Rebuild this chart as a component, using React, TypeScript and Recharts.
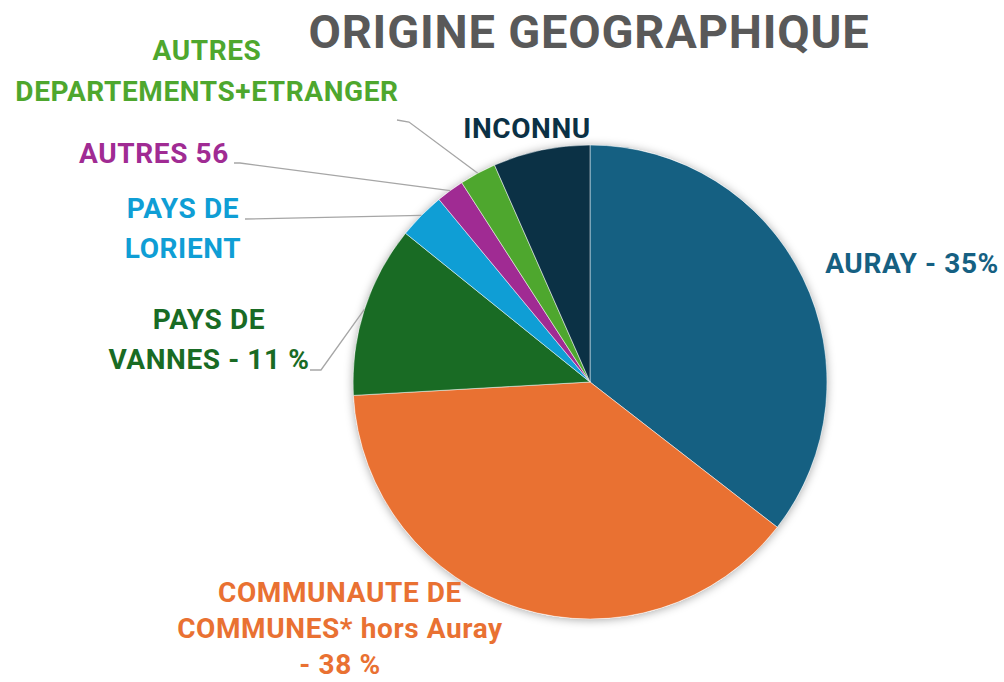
import { PieChart, Pie, Cell } from 'recharts';

// slices, clockwise from 12 o'clock
const SLICE_NAMES = [
    'AURAY',
    'COMMUNAUTE DE COMMUNES* hors Auray',
    'PAYS DE VANNES',
    'PAYS DE LORIENT',
    'AUTRES 56',
    'AUTRES DEPARTEMENTS+ETRANGER',
    'INCONNU',
];
const SLICE_VALUES = [35.5, 38.6, 11.7, 3.2, 1.9, 2.5, 6.6];
const LABEL_LINES = [
    ['AURAY - 35%'],
    ['COMMUNAUTE DE', 'COMMUNES* hors Auray', '- 38 %'],
    ['PAYS DE', 'VANNES - 11 %'],
    ['PAYS DE', 'LORIENT'],
    ['AUTRES 56'],
    ['AUTRES', 'DEPARTEMENTS+ETRANGER'],
    ['INCONNU'],
];

const COLORS = ['#156082', '#E97132', '#196B24', '#0F9ED5', '#A02B93', '#4EA72E', '#0B3145'];

// where each label sits (first baseline), and optional leader elbow points
const LABEL_LAYOUT: { x: number; y: number; lh: number; leader?: number[][] }[] = [
    { x: 912, y: 273, lh: 40 },
    { x: 340, y: 602, lh: 36 },
    { x: 209, y: 329, lh: 40, leader: [[310, 370], [321, 370]] },
    { x: 183, y: 218, lh: 40, leader: [[245, 219]] },
    { x: 154, y: 163, lh: 40, leader: [[234, 163], [240, 163]] },
    { x: 207, y: 60, lh: 41, leader: [[397, 120], [409, 122]] },
    { x: 527, y: 138, lh: 40 },
];

const data = SLICE_NAMES.map((name, i) => ({ name, value: SLICE_VALUES[i] }));

const FONT = 'Roboto, "Liberation Sans", sans-serif';
const RADIAN = Math.PI / 180;

const renderLabel = (props: any) => {
    const { cx, cy, midAngle, outerRadius, index } = props;
    const lay = LABEL_LAYOUT[index];
    const ex = cx + outerRadius * Math.cos(-midAngle * RADIAN);
    const ey = cy + outerRadius * Math.sin(-midAngle * RADIAN);
    return (
        <g key={`lbl-${index}`}>
            {lay.leader && (
                <polyline
                    points={[...lay.leader, [ex, ey]].map(p => p.join(',')).join(' ')}
                    fill="none"
                    stroke="#a6a6a6"
                    strokeWidth={1.3}
                />
            )}
            <text
                x={lay.x}
                y={lay.y}
                textAnchor="middle"
                fill={COLORS[index]}
                fontFamily={FONT}
                fontWeight={700}
                fontSize={28}
                letterSpacing={0.6}
            >
                {LABEL_LINES[index].map((line, i) => (
                    <tspan key={i} x={lay.x} dy={i === 0 ? 0 : lay.lh}>{line}</tspan>
                ))}
            </text>
        </g>
    );
};

export default function App() {
    return (
        <div style={{ position: 'absolute', left: 0, top: 0, width: 1004, height: 682, background: '#fff' }}>
            <div
                style={{
                    position: 'absolute',
                    left: 0,
                    width: 1178,
                    top: 8,
                    textAlign: 'center',
                    fontFamily: FONT,
                    fontWeight: 700,
                    fontSize: 47,
                    lineHeight: '47px',
                    letterSpacing: 0.8,
                    color: '#595959',
                    whiteSpace: 'nowrap',
                }}
            >
                ORIGINE GEOGRAPHIQUE
            </div>
            <PieChart width={1004} height={682} margin={{ top: 0, right: 0, bottom: 0, left: 0 }}>
                <defs>
                    <filter id="pieShadow" x="-20%" y="-20%" width="140%" height="140%">
                        <feDropShadow dx="0" dy="1" stdDeviation="5" floodColor="#000" floodOpacity="0.35" />
                    </filter>
                </defs>
                {/* base disc carrying the soft shadow */}
                <Pie
                    data={[{ name: 'base', value: 1 }]}
                    dataKey="value"
                    cx={590}
                    cy={382}
                    outerRadius={237}
                    startAngle={90}
                    endAngle={-270}
                    stroke="none"
                    isAnimationActive={false}
                >
                    <Cell fill="#ffffff" filter="url(#pieShadow)" />
                </Pie>
                <Pie
                    data={data}
                    dataKey="value"
                    nameKey="name"
                    cx={590}
                    cy={382}
                    outerRadius={237}
                    startAngle={90}
                    endAngle={-270}
                    stroke="#ffffff"
                    strokeWidth={0.5}
                    label={renderLabel}
                    labelLine={false}
                    isAnimationActive={false}
                >
                    {data.map((entry, index) => (
                        <Cell key={`cell-${index}`} fill={COLORS[index]} />
                    ))}
                </Pie>
            </PieChart>
        </div>
    );
}
